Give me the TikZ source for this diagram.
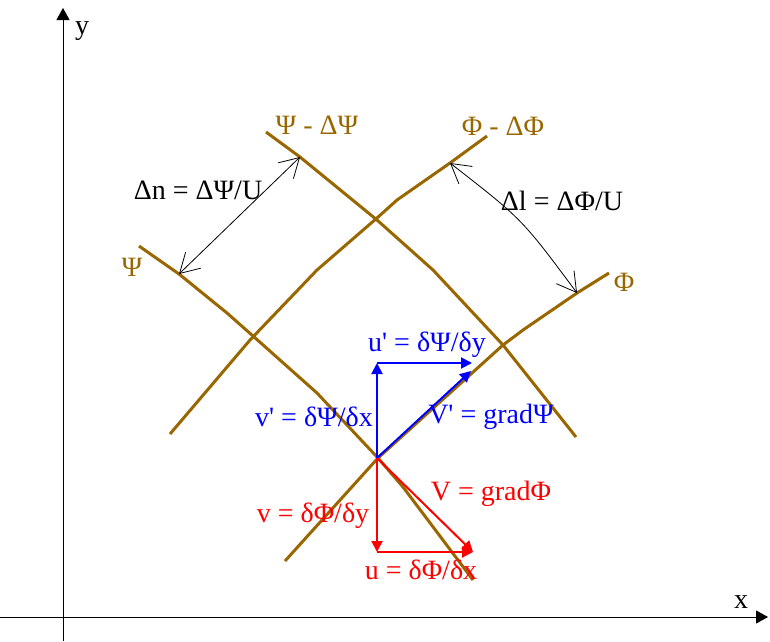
\documentclass[tikz,border=0pt]{standalone}
\usepackage{fontspec}
\setmainfont{Liberation Serif}
\usepackage{xcolor}
\definecolor{Ochre}{HTML}{996600}
\usetikzlibrary{arrows.meta}

\begin{document}
\begin{tikzpicture}[
    x=1pt, y=-1pt,
    curve/.style={Ochre, line width=3pt, line join=round},
    vec/.style={-{Triangle[length=11pt, width=11pt]}, line width=2pt},
    dim/.style={{Straight Barb[length=19pt, width=22pt]}-{Straight Barb[length=19pt, width=22pt]}, line width=0.8pt},
    axis/.style={-{Triangle[length=12pt, width=13pt]}, line width=1pt},
    lbl/.style={font=\fontsize{28}{33}\selectfont, inner sep=0pt}
  ]
  \useasboundingbox (0,0) rectangle (770,641);

  % axes
  \coordinate (xs) at (0,617);
  \coordinate (xe) at (768,617);
  \coordinate (ys) at (63,641);
  \coordinate (ye) at (63,8);
  \draw[axis] (xs) -- (xe);
  \draw[axis] (ys) -- (ye);
  \node[lbl] (xlab) at (741,602) {x};
  \node[lbl] (ylab) at (82,31) {y};

  % stream lines and potential lines
  \draw[curve] (266,132) -- (300,157) -- (377,220) -- (433,270) -- (503,345) -- (576,437);
  \draw[curve] (139,246) -- (179,274) -- (227,313) -- (253,336) -- (317,393) -- (378,458) -- (403,487) -- (473,580);
  \draw[curve] (170,434) -- (250,340) -- (317,270) -- (377,218) -- (397,200) -- (450,163) -- (487,136);
  \draw[curve] (285,561) -- (378,458) -- (503,345) -- (523,330) -- (577,293) -- (609,273);

  \node[lbl, Ochre] (psiup) at (317,125) {Ψ - ΔΨ};
  \node[lbl, Ochre] (phiup) at (503,126) {Φ - ΔΦ};
  \node[lbl, Ochre] (psi) at (132,267) {Ψ};
  \node[lbl, Ochre] (phi) at (624,282) {Φ};

  % spacings
  \coordinate (n1) at (179,274);
  \coordinate (n2) at (300,157);
  \coordinate (l1) at (450,163);
  \coordinate (lc) at (522,219);
  \coordinate (l2) at (577,293);
  \draw[dim] (n1) -- (n2);
  \draw[dim] (l1) .. controls (lc) .. (l2);
  \node[lbl] (dn) at (198,190) {Δn = ΔΨ/U};
  \node[lbl] (dl) at (562,201) {Δl = ΔΦ/U};

  % velocity vectors
  \coordinate (O) at (377,458);
  \coordinate (Ut) at (377,363);
  \coordinate (Ur) at (472,363);
  \coordinate (Gp) at (471,371);
  \coordinate (Db) at (377,552);
  \coordinate (Dr) at (473,552);

  \draw[vec, blue] (O) -- (Ut);
  \draw[vec, blue] (Ut) -- (Ur);
  \draw[vec, blue] (O) -- (Gp);
  \draw[vec, red] (O) -- (Db);
  \draw[vec, red] (Db) -- (Dr);
  \draw[vec, red] (O) -- (Dr);

  \node[lbl, blue] (up) at (427,345) {u\textquotesingle{} = δΨ/δy};
  \node[lbl, blue] (vp) at (314,417) {v\textquotesingle{} = δΨ/δx};
  \node[lbl, blue] (gpsi) at (491,417) {V\textquotesingle{} = gradΨ};
  \node[lbl, red] (gphi) at (491,494) {V = gradΦ};
  \node[lbl, red] (v) at (313,516) {v = δΦ/δy};
  \node[lbl, red] (u) at (421,570) {u = δΦ/δx};
\end{tikzpicture}
\end{document}
